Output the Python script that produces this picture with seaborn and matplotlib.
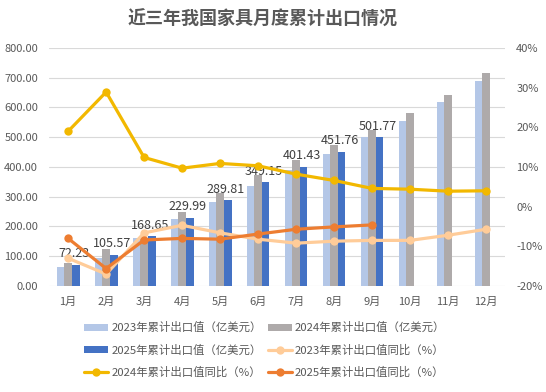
import matplotlib
matplotlib.use("Agg")
import matplotlib.pyplot as plt
import seaborn as sns
import pandas as pd
import numpy as np
from matplotlib.ticker import FuncFormatter, FixedLocator
from matplotlib.lines import Line2D
from matplotlib.patches import Patch

months = ["1月", "2月", "3月", "4月", "5月", "6月", "7月", "8月", "9月", "10月", "11月", "12月"]
val_2023 = [65, 95, 160, 225, 283, 337, 390, 444, 501, 555, 618, 689]
val_2024 = [78, 124, 162, 250, 314, 374, 424, 474, 524, 581, 642, 716]
val_2025 = [72.23, 105.57, 168.65, 229.99, 289.81, 349.15, 401.43, 451.76, 501.77, None, None, None]
yoy_2023 = [-13.0, -17.0, -6.6, -4.7, -6.6, -8.2, -9.2, -8.7, -8.5, -8.5, -7.2, -5.7]
yoy_2024 = [19.0, 28.9, 12.4, 9.7, 10.9, 10.3, 8.2, 6.6, 4.6, 4.4, 3.9, 4.0]
yoy_2025 = [-8.0, -15.6, -8.4, -8.0, -8.2, -6.9, -5.7, -5.1, -4.6, None, None, None]

bar_names = ["2023年累计出口值（亿美元）", "2024年累计出口值（亿美元）", "2025年累计出口值（亿美元）"]
line_names = ["2023年累计出口值同比（%）", "2024年累计出口值同比（%）", "2025年累计出口值同比（%）"]
bar_colors = ["#B4C7E7", "#AEAAAA", "#4472C4"]
line_colors = ["#FFCC99", "#F2B800", "#ED7D31"]

sns.set_theme(style="white")
plt.rcParams['font.family'] = ['Noto Sans CJK SC', 'DejaVu Sans']

bars = pd.DataFrame({
    "month": months * 3,
    "series": [bar_names[0]] * 12 + [bar_names[1]] * 12 + [bar_names[2]] * 12,
    "value": [np.nan if v is None else v for v in val_2023 + val_2024 + val_2025],
})
lines = pd.DataFrame({
    "x": list(range(12)) * 3,
    "series": [line_names[0]] * 12 + [line_names[1]] * 12 + [line_names[2]] * 12,
    "value": [np.nan if v is None else v for v in yoy_2023 + yoy_2024 + yoy_2025],
})

fig = plt.figure(figsize=(5.46, 3.92), dpi=100)
ax = fig.add_axes([0.09, 0.2704, 0.835, 0.6072])

sns.barplot(data=bars, x="month", y="value", hue="series", order=months,
            hue_order=bar_names, palette=bar_colors, width=0.6, ax=ax,
            legend=False, saturation=1, edgecolor="none")

ax.set_ylim(0, 800)
ax.set_xlim(-0.5, 11.5)
ax.yaxis.set_major_locator(FixedLocator(np.arange(0, 801, 100)))
ax.yaxis.set_major_formatter(FuncFormatter(lambda v, p: f"{v:.2f}"))
ax.grid(axis="y", color="#D9D9D9", linewidth=0.8)
ax.set_axisbelow(True)
for s in ax.spines.values():
    s.set_visible(False)
ax.set_xlabel("")
ax.set_ylabel("")
ax.tick_params(axis="y", length=0, labelsize=8, labelcolor="#595959", pad=8)
ax.tick_params(axis="x", length=0, labelsize=8, labelcolor="#595959", pad=8)

# data labels on 2025 bars
bw = 0.6 / 3
for i, v in enumerate(val_2025):
    if v is None:
        continue
    ax.annotate(f"{v:.2f}", xy=(i + bw - 0.05, v), xytext=(0, 3), textcoords="offset points",
                ha="center", va="bottom", fontsize=9, color="#404040")

ax2 = ax.twinx()
sns.lineplot(data=lines, x="x", y="value", hue="series", hue_order=line_names,
             palette=line_colors, marker="o", markersize=6, markeredgewidth=0,
             linewidth=2.3, ax=ax2, legend=False)
ax2.set_ylim(-20, 40)
ax2.set_xlim(-0.5, 11.5)
ax2.yaxis.set_major_locator(FixedLocator(np.arange(-20, 41, 10)))
ax2.yaxis.set_major_formatter(FuncFormatter(lambda v, p: f"{int(v)}%"))
ax2.tick_params(axis="y", length=0, labelsize=8, labelcolor="#595959", pad=8)
ax2.set_ylabel("")
ax2.set_xlabel("")
ax2.grid(False)
for s in ax2.spines.values():
    s.set_visible(False)

fig.suptitle("近三年我国家具月度累计出口情况", x=0.48, y=0.975, fontsize=13,
             fontweight="bold", color="#595959")

h_bars = [Patch(facecolor=c, edgecolor="none") for c in bar_colors]
h_lines = [Line2D([], [], color=c, linewidth=2.3, marker="o", markersize=6,
                  markeredgewidth=0) for c in line_colors]
handles = [h_bars[0], h_bars[2], h_lines[1], h_bars[1], h_lines[0], h_lines[2]]
labels = [bar_names[0], bar_names[2], line_names[1], bar_names[1], line_names[0], line_names[2]]
leg = fig.legend(handles, labels, ncol=2, loc="upper center", bbox_to_anchor=(0.485, 0.19),
                 borderaxespad=0, frameon=False, fontsize=8.2, handlelength=2.1,
                 handleheight=0.6, columnspacing=0.5, handletextpad=0.3, labelspacing=0.95,
                 labelcolor="#595959")

fig.savefig("out.png", dpi=100)
